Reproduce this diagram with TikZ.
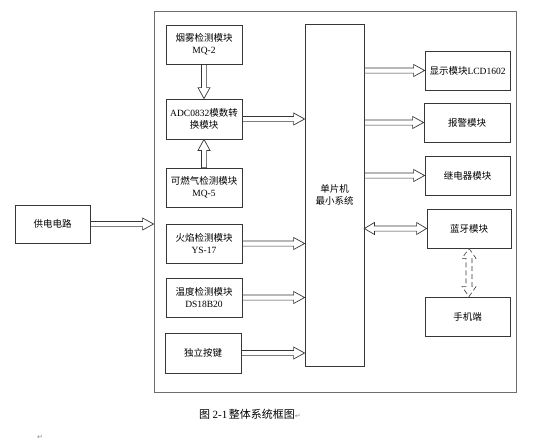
\documentclass[tikz,border=0pt]{standalone}
\usepackage{fontspec}
\setmainfont{Noto Sans CJK SC}
\newfontfamily\latinfont{Liberation Serif}
\newfontfamily\symfont{DejaVu Sans}
\usepackage{tikz}
\usetikzlibrary{arrows.meta,positioning,calc}
\definecolor{boxline}{RGB}{55,55,55}
\definecolor{frameline}{RGB}{110,110,110}
\definecolor{markgray}{RGB}{140,140,140}

% hollow block arrow: [options]{from}{to}
\newcommand\blockarrow[3][]{%
  \begin{scope}
    \coordinate (ba) at #2;
    \coordinate (bb) at #3;
    \coordinate (bh) at ($(bb)!11pt!(ba)$);
    \draw[blockarr,#1] ($(ba)!2.6pt!90:(bb)$) -- ($(bh)!2.6pt!90:(bb)$)
      -- ($(bh)!6pt!90:(bb)$) -- (bb) -- ($(bh)!6pt!-90:(bb)$)
      -- ($(bh)!2.6pt!-90:(bb)$) -- ($(ba)!2.6pt!-90:(bb)$) -- cycle;
  \end{scope}}
% hollow block arrow with two heads
\newcommand\blockarrowboth[5][]{%
  \begin{scope}
    \coordinate (ba) at #2;
    \coordinate (bb) at #3;
    \coordinate (bh) at ($(ba)!10pt!(bb)$);
    \coordinate (bk) at ($(bb)!10pt!(ba)$);
    \draw[blockarr,#1] (ba) -- ($(bh)!#5!90:(bb)$) -- ($(bh)!#4!90:(bb)$)
      -- ($(bk)!#4!90:(bb)$) -- ($(bk)!#5!90:(bb)$) -- (bb)
      -- ($(bk)!#5!-90:(bb)$) -- ($(bk)!#4!-90:(bb)$)
      -- ($(bh)!#4!-90:(bb)$) -- ($(bh)!#5!-90:(bb)$) -- cycle;
  \end{scope}}

\begin{document}
\begin{tikzpicture}[x=1pt,y=-1pt,
          blk/.style={draw=boxline,line width=0.8pt,fill=white,
                      minimum width=76pt,minimum height=39pt,inner sep=1pt,
                      font=\fontsize{9.5}{12}\selectfont,align=center},
          blockarr/.style={draw=boxline,line width=0.7pt,fill=white,line join=miter}]
  \useasboundingbox (0,0) rectangle (534,444);
  % outer frame and MCU
  \node[draw=frameline,line width=0.8pt,minimum width=362pt,minimum height=381pt,
        inner sep=0pt] (sys) at (335,201.5) {};
  \node[blk,minimum width=59pt,minimum height=342pt] (mcu) at (334.5,195) {单片机\\最小系统};
  % inputs
  \node[blk] (smoke) at (204,44.5)  {烟雾检测模块\\{\latinfont MQ-2}};
  \node[blk,minimum height=40pt] (adc) at (204,119) {{\latinfont ADC0832}模数转\\换模块};
  \node[blk] (gas)   at (204,187.5) {可燃气检测模块\\{\latinfont MQ-5}};
  \node[blk] (fire)  at (204,243.5) {火焰检测模块\\{\latinfont YS-17}};
  \node[blk] (temp)  at (204,297.5) {温度检测模块\\{\latinfont DS18B20}};
  \node[blk,minimum height=40pt] (key) at (203,353) {独立按键};
  \node[blk,minimum width=75pt,minimum height=38pt] (power) at (52.5,224) {供电电路};
  % outputs
  \node[blk,minimum width=85pt] (lcd)   at (467.5,70.5)  {显示模块{\latinfont LCD1602}};
  \node[blk,minimum width=86pt] (alarm) at (467,122.5)   {报警模块};
  \node[blk,minimum width=85pt] (relay) at (467.5,175.5) {继电器模块};
  \node[blk,minimum width=84pt] (bt)    at (469,228.5)   {蓝牙模块};
  \node[blk,minimum width=85pt] (phone) at (467.5,316.5) {手机端};
  % arrows
  \blockarrow{(power.east)}{(power.east -| sys.west)}
  \blockarrow{(smoke.south)}{(adc.north)}
  \blockarrow{(gas.north)}{(adc.south)}
  \blockarrow{(adc.east)}{(adc.east -| mcu.west)}
  \blockarrow{(fire.east)}{(fire.east -| mcu.west)}
  \blockarrow{(temp.east)}{(temp.east -| mcu.west)}
  \blockarrow{(key.east)}{(key.east -| mcu.west)}
  \blockarrow{(lcd.west -| mcu.east)}{(lcd.west)}
  \blockarrow{(alarm.west -| mcu.east)}{(alarm.west)}
  \blockarrow{(relay.west -| mcu.east)}{(relay.west)}
  \blockarrowboth{(bt.west -| mcu.east)}{(bt.west)}{2.6pt}{6pt}
  \blockarrowboth[dash pattern=on 5pt off 3pt,line width=0.6pt]{(bt.south)}{(bt.south |- phone.north)}{3pt}{7pt}
  % caption
  \node[font=\fontsize{11}{13}\selectfont] (cap) at (250,414)
    {图 {\latinfont 2-1}{\symfont\color{markgray}\tiny·}整体系统框图{\symfont\color{markgray}\scriptsize ↵}};
  \node[font=\symfont\scriptsize,text=markgray] (mark) at (40,437) {↵};
\end{tikzpicture}
\end{document}
